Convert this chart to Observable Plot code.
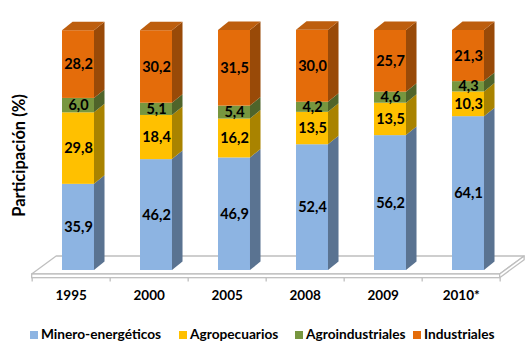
<!DOCTYPE html>
<html>
<head>
<meta charset="utf-8">
<script src="https://cdn.jsdelivr.net/npm/d3@7"></script>
<script src="https://cdn.jsdelivr.net/npm/@observablehq/plot@0.6"></script>
<style>
  html, body { margin: 0; padding: 0; background: #fff; }
  body { width: 525px; height: 341px; position: relative; overflow: hidden; font-family: Lato, "Open Sans", sans-serif; }
  #legend { position: absolute; left: 0; top: 326px; width: 525px; height: 15px; font-size: 13.7px; font-weight: bold; color: #000; }
  #legend .item { position: absolute; top: 0; white-space: nowrap; line-height: 15px; height: 15px; }
  #legend .sw { display: inline-block; width: 8px; height: 8px; margin-right: 3px; vertical-align: 0px; }
</style>
</head>
<body>
<div id="chart"></div>
<div id="legend"></div>
<script>
// Participación por sector (%), por año
const categories = ["1995", "2000", "2005", "2008", "2009", "2010*"];
const series = ["Minero-energéticos", "Agropecuarios", "Agroindustriales", "Industriales"];
const minero = [35.9, 46.2, 46.9, 52.4, 56.2, 64.1];
const agropecuarios = [29.8, 18.4, 16.2, 13.5, 13.5, 10.3];
const agroindustriales = [6.0, 5.1, 5.4, 4.2, 4.6, 4.3];
const industriales = [28.2, 30.2, 31.5, 30.0, 25.7, 21.3];

const values = [minero, agropecuarios, agroindustriales, industriales];
const frontColors = ["#8DB4E2", "#FFC000", "#77963F", "#E46C0A"];
const sideColors = ["#5A7391", "#A98300", "#4F642A", "#994A08"];
const topColor = "#BD5E0E";
const legendX = [30, 179, 295, 413];

// 3D geometry in data units (x: category index, y: percent)
const hw = 0.205;       // half width of a bar front
const depthX = 0.135;   // bar depth, horizontal
const depthY = 3.55;    // bar depth, vertical
const floorX0 = -0.594, floorX1 = 5.406;
const floorTop = -1.67, floorBottom = -3.2, floorBack = 5.83, floorDX = 0.314;

// stacked segments
const segments = [];
categories.forEach((c, i) => {
  let acc = 0;
  values.forEach((vals, s) => {
    const v = vals[i];
    segments.push({i, s, lo: acc, hi: acc + v, value: v, id: `${i}-${s}`});
    acc += v;
  });
});

const sidePoints = segments.flatMap(d => [
  {id: d.id, x: d.i + hw, y1: d.lo, y2: d.hi, fill: sideColors[d.s]},
  {id: d.id, x: d.i + hw + depthX, y1: d.lo + depthY, y2: d.hi + depthY, fill: sideColors[d.s]}
]);

const tops = segments.filter(d => d.s === values.length - 1);
const topPoints = tops.flatMap(d => [
  {id: d.i, x: d.i - hw, y1: d.hi, y2: d.hi},
  {id: d.i, x: d.i - hw + depthX, y1: d.hi, y2: d.hi + depthY},
  {id: d.i, x: d.i + hw, y1: d.hi, y2: d.hi + depthY},
  {id: d.i, x: d.i + hw + depthX, y1: d.hi + depthY, y2: d.hi + depthY}
]);

const floorPoints = [
  {x: floorX0, y1: floorTop, y2: floorTop},
  {x: floorX0 + floorDX, y1: floorTop, y2: floorBack},
  {x: floorX1, y1: floorTop, y2: floorBack},
  {x: floorX1 + floorDX, y1: floorBack, y2: floorBack}
];

const tickPos = d3.range(categories.length + 1).map(k => floorX0 + k);
const fmt = v => v.toFixed(1).replace(".", ",");

const chart = Plot.plot({
  width: 525,
  height: 316,
  marginTop: 30,
  marginBottom: 46,
  marginLeft: 39,
  marginRight: 18,
  x: {domain: [-0.5, 5.5], axis: null},
  y: {domain: [0, 100], axis: null},
  color: {type: "identity"},
  style: {fontFamily: "Lato, 'Open Sans', sans-serif", background: "#fff", overflow: "visible"},
  marks: [
    // floor
    Plot.areaY(floorPoints, {x: "x", y1: "y1", y2: "y2", fill: "#fff", stroke: "#BFBFBF", strokeWidth: 1.3}),
    Plot.rect([0], {x1: floorX0, x2: floorX1, y1: floorBottom, y2: floorTop, fill: "#fff", stroke: "#BFBFBF", strokeWidth: 1.3}),
    Plot.areaY([
      {x: floorX1, y1: floorBottom, y2: floorTop},
      {x: floorX1 + floorDX, y1: floorBack - (floorTop - floorBottom), y2: floorBack}
    ], {x: "x", y1: "y1", y2: "y2", fill: "#fff", stroke: "#BFBFBF", strokeWidth: 1.3}),
    Plot.ruleX(tickPos, {x: d => d, y1: floorBottom, y2: floorBottom - 1.6, stroke: "#BFBFBF", strokeWidth: 1.3}),
    // bars
    Plot.rect(segments, {x1: d => d.i - hw, x2: d => d.i + hw, y1: "lo", y2: "hi", fill: d => frontColors[d.s]}),
    Plot.areaY(sidePoints, {x: "x", y1: "y1", y2: "y2", z: "id", fill: "fill"}),
    Plot.areaY(topPoints, {x: "x", y1: "y1", y2: "y2", z: "id", fill: topColor}),
    // value labels
    Plot.text(segments, {x: "i", y: d => (d.lo + d.hi) / 2, text: d => fmt(d.value), fontSize: 14.5, fontWeight: "bold", fill: "#000"}),
    // category labels
    Plot.text(categories, {x: (d, i) => i + floorX0 + 0.5, text: d => d, frameAnchor: "bottom", dy: 29, fontSize: 13.5, fontWeight: "bold", fill: "#000"}),
    // y label
    Plot.text(["Participación (%)"], {frameAnchor: "left", textAnchor: "middle", dx: -20, dy: 5, rotate: -90, fontSize: 16.5, fontWeight: "bold", fill: "#000"})
  ]
});
document.getElementById("chart").appendChild(chart);

// legend
const legend = document.getElementById("legend");
series.forEach((name, s) => {
  const item = document.createElement("span");
  item.className = "item";
  item.style.left = legendX[s] + "px";
  const sw = document.createElement("span");
  sw.className = "sw";
  sw.style.background = frontColors[s];
  item.appendChild(sw);
  item.appendChild(document.createTextNode(name));
  legend.appendChild(item);
});
</script>
</body>
</html>
